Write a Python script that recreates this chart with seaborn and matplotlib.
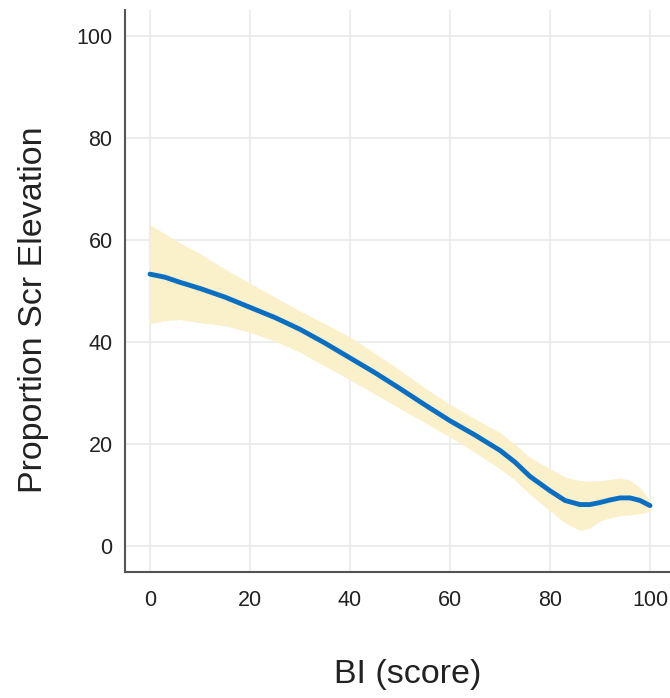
import matplotlib
matplotlib.use("Agg")
import matplotlib.pyplot as plt
import seaborn as sns
import pandas as pd

# Data
bi_score = [0, 3, 6, 10, 15, 20, 25, 30, 35, 40, 45, 50, 55, 60, 65, 70, 73, 76, 80, 83, 86, 88, 90, 92, 94, 96, 98, 100]
proportion = [53.3, 52.7, 51.7, 50.5, 48.8, 46.8, 44.8, 42.5, 39.8, 36.9, 34.0, 30.9, 27.7, 24.6, 21.8, 18.8, 16.5, 13.7, 10.9, 9.0, 8.2, 8.2, 8.6, 9.1, 9.5, 9.5, 9.0, 8.0]
ci_upper = [63.0, 61.2, 59.4, 57.3, 54.3, 51.5, 48.8, 46.1, 43.6, 41.0, 37.8, 34.5, 31.0, 27.8, 25.0, 22.3, 20.0, 17.4, 15.2, 13.6, 12.9, 12.8, 12.9, 13.1, 13.4, 13.0, 11.5, 9.0]
ci_lower = [43.6, 44.2, 44.4, 43.8, 43.2, 41.9, 40.2, 38.0, 35.3, 32.6, 29.8, 27.0, 24.2, 21.4, 18.4, 15.2, 13.0, 10.2, 7.0, 4.6, 3.1, 3.6, 5.0, 5.6, 6.0, 6.2, 6.4, 6.9]

x_ticks = [0, 20, 40, 60, 80, 100]
y_ticks = [0, 20, 40, 60, 80, 100]

df = pd.DataFrame({"BI (score)": bi_score, "Proportion Scr Elevation": proportion,
                   "upper": ci_upper, "lower": ci_lower})

sns.set_theme(style="whitegrid")
plt.rcParams["font.family"] = ["Liberation Sans", "DejaVu Sans"]

fig = plt.figure(figsize=(6.70, 6.98), dpi=100)
ax = fig.add_axes([125 / 670, 126 / 698, 545 / 670, 562 / 698])

ax.fill_between(df["BI (score)"], df["lower"], df["upper"], color="#faf0c9", linewidth=0, zorder=2)
sns.lineplot(data=df, x="BI (score)", y="Proportion Scr Elevation", ax=ax,
             color="#0a6fc2", linewidth=3.5, zorder=3)

ax.set_xlim(-5, 104)
ax.set_ylim(-5, 105)
ax.set_xticks(x_ticks)
ax.set_yticks(y_ticks)
ax.grid(True, color="#e8e8e8", linewidth=1.1)
ax.set_axisbelow(True)

for s in ["top", "right"]:
    ax.spines[s].set_visible(False)
for s in ["left", "bottom"]:
    ax.spines[s].set_visible(True)
    ax.spines[s].set_color("#555555")
    ax.spines[s].set_linewidth(1.5)

ax.tick_params(axis="x", length=0, pad=13, labelsize=15.5, labelcolor="#222222")
ax.tick_params(axis="y", length=0, pad=9, labelsize=15.5, labelcolor="#222222")

ax.set_xlabel("BI (score)", fontsize=24.5, color="#222222")
ax.set_ylabel("Proportion Scr Elevation", fontsize=24.5, color="#222222")
ax.xaxis.set_label_coords(0.519, -0.155)
ax.yaxis.set_label_coords(-0.14, 0.466)

fig.savefig("out.png", dpi=100)
